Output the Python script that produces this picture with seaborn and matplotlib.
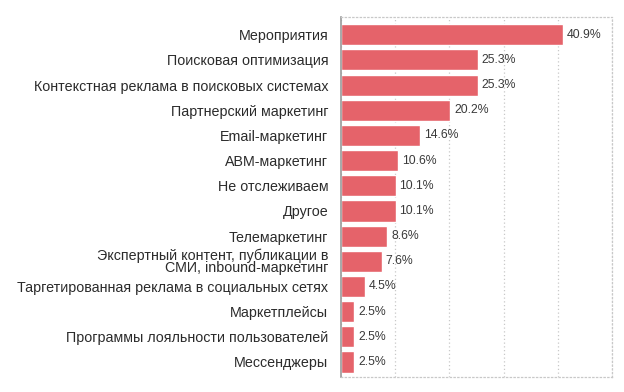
import matplotlib
matplotlib.use("Agg")
import matplotlib.pyplot as plt
import seaborn as sns
import pandas as pd

# data
channels = [
    "Мероприятия",
    "Поисковая оптимизация",
    "Контекстная реклама в поисковых системах",
    "Партнерский маркетинг",
    "Email-маркетинг",
    "ABM-маркетинг",
    "Не отслеживаем",
    "Другое",
    "Телемаркетинг",
    "Экспертный контент, публикации в\nСМИ, inbound-маркетинг",
    "Таргетированная реклама в социальных сетях",
    "Маркетплейсы",
    "Программы лояльности пользователей",
    "Мессенджеры",
]
shares = [40.9, 25.3, 25.3, 20.2, 14.6, 10.6, 10.1, 10.1, 8.6, 7.6, 4.5, 2.5, 2.5, 2.5]
x_ticks = [0, 10, 20, 30, 40, 50]

df = pd.DataFrame({"channel": channels, "share": shares})

sns.set_style("white")
plt.rcParams["font.family"] = ["Liberation Sans", "DejaVu Sans"]

fig = plt.figure(figsize=(6.24, 3.92), dpi=100)
ax = fig.add_axes([0.546, 0.038, 0.435, 0.919])

sns.barplot(data=df, y="channel", x="share", color="#e5636a", saturation=1,
            width=0.84, ax=ax)

ax.set_xlim(0, 50)
ax.set_ylim(13.6, -0.71)
ax.set_xticks(x_ticks)
ax.set_xticklabels([])
ax.tick_params(axis="both", length=0)
ax.tick_params(axis="y", labelsize=10.3, labelcolor="#2b2b2b", pad=9)
ax.set_xlabel("")
ax.set_ylabel("")

# dotted grid and frame
ax.grid(axis="x", color="#c8c8c8", linestyle=(0, (1, 2)), linewidth=0.9)
ax.set_axisbelow(True)
for side in ["top", "bottom", "right"]:
    ax.spines[side].set_color("#c8c8c8")
    ax.spines[side].set_linestyle((0, (1, 2)))
    ax.spines[side].set_linewidth(0.9)
ax.spines["left"].set_color("#9a9a9a")
ax.spines["left"].set_linewidth(1.2)

for lbl in ax.get_yticklabels():
    lbl.set_linespacing(0.85)

for i, v in enumerate(shares):
    ax.text(v + 0.7, i, f"{v}%", va="center", ha="left", fontsize=8.8, color="#3a3a3a")

fig.savefig("out.png", dpi=100)
